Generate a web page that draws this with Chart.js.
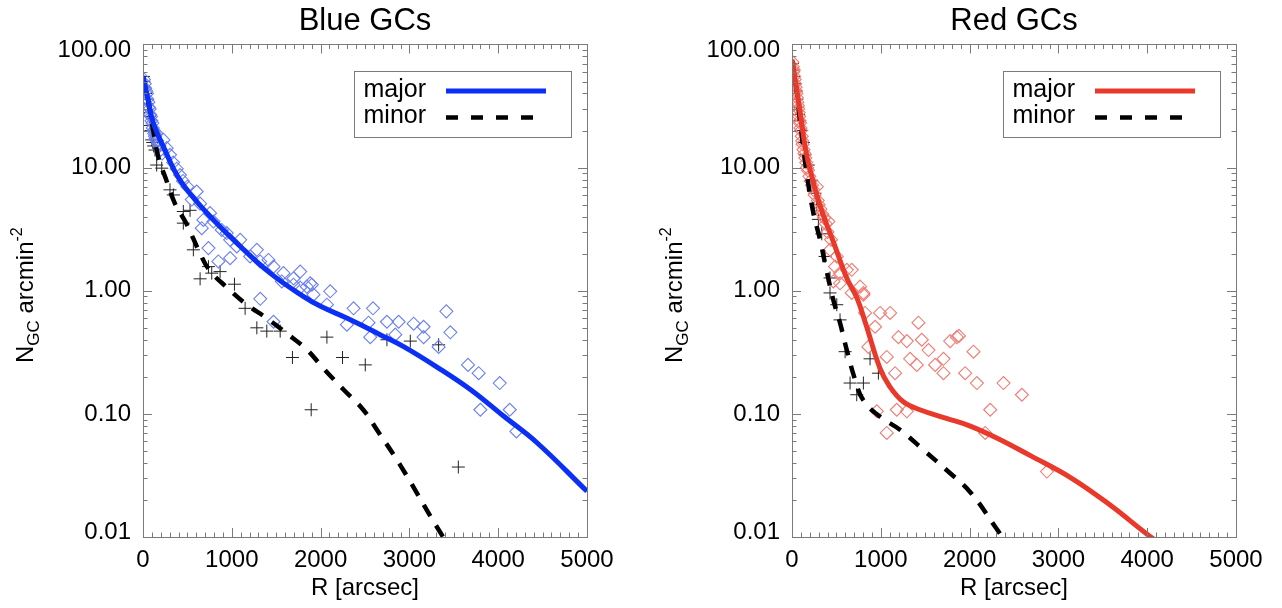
<!DOCTYPE html>
<html>
<head>
<meta charset="utf-8">
<script src="https://cdn.jsdelivr.net/npm/chart.js@4.4.1/dist/chart.umd.min.js"></script>
<style>
  html, body { margin: 0; padding: 0; background: #fff; overflow: hidden; }
  #wrap { position: relative; width: 1282px; height: 608px; overflow: hidden; }
  canvas { position: absolute; top: 0; }
  #blueChart { left: 0; }
  #redChart { left: 649px; }
</style>
</head>
<body>
<div id="wrap">
  <canvas id="blueChart" width="640" height="608"></canvas>
  <canvas id="redChart" width="640" height="608"></canvas>
</div>
<script>
// axis ticks
const xTicks = [0, 1000, 2000, 3000, 4000, 5000];
const yTicks = [0.01, 0.1, 1, 10, 100];
const legendLabels = ["major", "minor"];

// Blue GCs - fitted profiles
const blueMajorR = [0, 60, 116, 229, 417, 718, 1094, 1432, 1800, 2000, 2300, 2670, 2940, 3310, 3690, 4060, 4440, 5000];
const blueMajorN = [55, 35, 23, 14.8, 7.9, 4.3, 2.3, 1.39, 0.904, 0.747, 0.597, 0.44, 0.35, 0.24, 0.157, 0.096, 0.058, 0.0235];
const blueMinorR = [0, 60, 116, 180, 250, 360, 490, 630, 745, 940, 1170, 1390, 1620, 1850, 2030, 2260, 2480, 2630, 2900, 3380, 3500];
const blueMinorN = [55, 34, 20, 11.5, 8.4, 5.1, 3.5, 2.1, 1.48, 1.07, 0.77, 0.6, 0.45, 0.33, 0.235, 0.157, 0.108, 0.075, 0.038, 0.01, 0.0078];

// Blue GCs - data along major axis (diamonds)
const blueMajPtsR = [10, 20, 25, 35, 45, 50, 60, 65, 75, 80, 90, 95, 105, 110, 120, 125, 135, 140, 150, 160, 170, 185, 200, 215,
  230, 267, 304, 340, 380, 417, 450, 500, 605, 549, 643, 755, 680, 793, 662, 887, 943, 981, 1094, 1056, 1282, 737, 1206, 981,
  1413, 1470, 849, 1319, 1582, 1770, 1695, 1883, 2108, 1845, 1320, 1470, 1563, 1695, 1770, 1902, 1920, 2071, 2371, 2590,
  2296, 2540, 2559, 2747, 2879, 3048, 3160, 3160, 2841, 3416, 3461, 3329, 3660, 3780, 4017, 3799, 4130, 4205];
const blueMajPtsN = [52, 48, 44, 42, 40, 36, 34, 31, 30, 27, 26, 24, 23, 21, 20, 19, 18, 17, 19, 16.5, 15.5, 15, 14, 13,
  16.8, 14.4, 12.7, 11, 9.8, 8.7, 7.8, 7.0, 6.4, 5.5, 5.1, 4.27, 3.76, 3.65, 3.22, 3.12, 2.94, 2.59, 2.59, 2.29, 2.15, 2.22, 1.9, 1.84,
  1.78, 1.57, 1.73, 1.73, 1.39, 1.43, 1.26, 1.15, 0.99, 1.08, 0.86, 0.56, 1.19, 1.12, 1.06, 1.12, 0.93, 0.77, 0.72, 0.72,
  0.53, 0.55, 0.42, 0.56, 0.56, 0.54, 0.51, 0.42, 0.44, 0.68, 0.46, 0.35, 0.25, 0.214, 0.178, 0.108, 0.108, 0.072];

// Blue GCs - data along minor axis (crosses)
const blueMinPtsR = [5, 10, 20, 30, 40, 50, 60, 70, 80, 90, 98, 110, 120, 135, 154, 211, 304, 342, 454, 530, 454, 567, 737, 774,
  643, 868, 1030, 1150, 1282, 1394, 1545, 2071, 1683, 2247, 2503, 1894, 2747, 3010, 3329, 3551];
const blueMinPtsN = [55, 50, 45, 40, 36, 33, 28, 26, 22, 20, 16.8, 16, 15, 13.9, 10.5, 9.9, 6.6, 6.0, 4.4, 4.5, 3.54, 2.15, 1.57, 1.39,
  1.25, 1.43, 1.13, 0.72, 0.5, 0.47, 0.47, 0.42, 0.287, 0.287, 0.25, 0.108, 0.4, 0.39, 0.364, 0.037];

// Red GCs - fitted profiles
const redMajorR = [0, 53, 109, 147, 203, 320, 470, 620, 730, 830, 990, 1100, 1250, 1440, 1740, 2000, 2300, 2680, 3150, 3590, 4040, 4200];
const redMajorN = [75, 43, 23, 14.8, 9.6, 4.8, 2.45, 1.25, 0.88, 0.54, 0.235, 0.167, 0.126, 0.108, 0.092, 0.08, 0.064, 0.046, 0.03, 0.018, 0.01, 0.0085];
const redMinorR = [0, 53, 90, 166, 240, 316, 390, 466, 540, 617, 710, 800, 990, 1220, 1480, 1740, 2010, 2310, 2400];
const redMinorN = [75, 42, 24, 9.0, 4.3, 2.6, 1.45, 0.84, 0.55, 0.33, 0.19, 0.13, 0.095, 0.074, 0.051, 0.035, 0.023, 0.0115, 0.0092];

// Red GCs - data along major axis (diamonds)
const redMajPtsR = [5, 10, 15, 20, 25, 30, 35, 40, 45, 50, 55, 60, 65, 70, 75, 80, 85, 90, 95, 100, 110, 115, 120, 130, 140, 150,
  160, 170, 180, 195, 210, 225, 240, 255, 279, 290, 300, 320, 340, 360, 380, 410, 400, 428, 440, 504, 617, 673, 767, 804,
  541, 485, 466, 541, 673, 804, 823, 992, 1105, 936, 1424, 1199, 1293, 1462, 1537, 1781, 1857, 1880, 2044, 860, 1067, 1330,
  1405, 1612, 1706, 1706, 1161, 1950, 2082, 2382, 2589, 955, 1180, 1293, 2232, 1067, 2176, 2871];
const redMajPtsN = [72, 66, 60, 62, 55, 52, 48, 45, 42, 40, 37, 34, 32, 30, 28, 26, 24, 23, 21, 20, 18, 16.5, 15.5, 14, 13, 12,
  11, 10, 9.5, 8.5, 7.8, 7.2, 6.6, 6.0, 7.0, 5.4, 5.0, 4.6, 4.2, 3.9, 3.5, 3.65, 3.0, 2.15, 2.6, 1.9, 1.48, 1.48, 1.08, 0.96,
  1.39, 1.57, 1.19, 1.15, 0.96, 0.93, 0.66, 0.66, 0.66, 0.51, 0.55, 0.42, 0.39, 0.4, 0.33, 0.39, 0.42, 0.43, 0.32, 0.35, 0.29, 0.28,
  0.25, 0.25, 0.28, 0.214, 0.214, 0.214, 0.178, 0.178, 0.143, 0.105, 0.108, 0.105, 0.108, 0.07, 0.07, 0.034];

// Red GCs - data along minor axis (crosses)
const redMinPtsR = [5, 15, 25, 35, 45, 55, 65, 75, 85, 109, 128, 147, 184, 222, 259, 279, 297, 335, 372, 428, 428, 504, 541,
  598, 654, 804, 729, 879, 973];
const redMinPtsN = [70, 62, 55, 48, 42, 36, 31, 27, 24, 20, 16, 12.7, 10.5, 7.9, 6.2, 5.0, 3.8, 2.9, 1.9, 1.27, 0.96, 0.77, 0.58,
  0.32, 0.178, 0.178, 0.143, 0.28, 0.214];

const FONT = "'Liberation Sans', Arial, Helvetica, sans-serif";
const FRAME = "#7a7a7a";

function zip(xs, ys) {
    return xs.map((x, i) => ({ x: x, y: ys[i] }));
}

// box, inward ticks, y labels, y title and legend (IDL style)
const idlDecor = {
    id: "idlDecor",
    afterDatasetsDraw(chart, args, opts) {
        const ctx = chart.ctx;
        const a = chart.chartArea;
        const xs = chart.scales.x;
        const ys = chart.scales.y;

        ctx.save();
        ctx.strokeStyle = FRAME;
        ctx.lineWidth = 1;
        ctx.strokeRect(Math.round(a.left) + 0.5, Math.round(a.top) + 0.5,
            Math.round(a.right - a.left), Math.round(a.bottom - a.top));

        ctx.beginPath();
        for (let v = 0; v <= 5000; v += 100) {
            const px = Math.round(xs.getPixelForValue(v)) + 0.5;
            const len = v % 1000 === 0 ? 9 : 4.5;
            ctx.moveTo(px, a.bottom); ctx.lineTo(px, a.bottom - len);
            ctx.moveTo(px, a.top); ctx.lineTo(px, a.top + len);
        }
        for (let d = 0.01; d < 150; d *= 10) {
            for (let k = 1; k <= 9; k++) {
                const v = d * k;
                if (v > 100.0001) break;
                const py = Math.round(ys.getPixelForValue(v)) + 0.5;
                const len = k === 1 ? 9 : 4.5;
                ctx.moveTo(a.left, py); ctx.lineTo(a.left + len, py);
                ctx.moveTo(a.right, py); ctx.lineTo(a.right - len, py);
            }
        }
        ctx.stroke();

        // y tick labels (end labels nudged inside, like IDL)
        ctx.fillStyle = "#000";
        ctx.font = "24px " + FONT;
        ctx.textAlign = "right";
        ctx.textBaseline = "middle";
        yTicks.forEach((v, i) => {
            let off = 0;
            if (i === 0) off = -5;
            if (i === yTicks.length - 1) off = 6;
            ctx.fillText(v.toFixed(2), a.left - 12, ys.getPixelForValue(v) + off);
        });

        // y axis title: N_GC arcmin^-2
        ctx.translate(33, 363);
        ctx.rotate(-Math.PI / 2);
        ctx.textBaseline = "alphabetic";
        ctx.textAlign = "left";
        let x = 0;
        ctx.font = "24px " + FONT;
        ctx.fillText("N", x, 0); x += ctx.measureText("N").width;
        ctx.font = "17px " + FONT;
        ctx.fillText("GC", x, 6); x += ctx.measureText("GC").width;
        ctx.font = "24px " + FONT;
        ctx.fillText(" arcmin", x, 0); x += ctx.measureText(" arcmin").width;
        ctx.font = "16px " + FONT;
        ctx.fillText("-2", x, -11);
        ctx.restore();

        // legend
        ctx.save();
        const lx = a.left + 211;
        ctx.strokeStyle = FRAME;
        ctx.lineWidth = 1;
        ctx.strokeRect(Math.round(lx) + 0.5, 71.5, 217, 66);
        ctx.fillStyle = "#000";
        ctx.font = "25px " + FONT;
        ctx.textBaseline = "alphabetic";
        ctx.fillText(legendLabels[0], lx + 9.5, 97);
        ctx.fillText(legendLabels[1], lx + 9.5, 123);
        ctx.lineWidth = 5;
        ctx.strokeStyle = opts.color;
        ctx.beginPath(); ctx.moveTo(lx + 92, 91); ctx.lineTo(lx + 192, 91); ctx.stroke();
        ctx.lineWidth = 4.5;
        ctx.strokeStyle = "#000";
        ctx.setLineDash([12, 13]);
        ctx.beginPath(); ctx.moveTo(lx + 92, 117.5); ctx.lineTo(lx + 192, 117.5); ctx.stroke();
        ctx.restore();
    }
};

function makeChart(id, title, lineColor, ptColor, majR, majN, minR, minN, pR, pN, cR, cN) {
    new Chart(document.getElementById(id), {
        type: "scatter",
        data: {
            datasets: [
                {
                    data: zip(majR, majN), showLine: true, borderColor: lineColor, borderWidth: 5,
                    pointRadius: 0, tension: 0.4, clip: 0
                },
                {
                    data: zip(minR, minN), showLine: true, borderColor: "#000", borderWidth: 4.5,
                    borderDash: [13, 11], pointRadius: 0, tension: 0.4, clip: 0
                },
                {
                    data: zip(pR, pN), pointStyle: "rectRot", pointRadius: 6.5, borderWidth: 1.1,
                    borderColor: ptColor, backgroundColor: "rgba(0,0,0,0)"
                },
                {
                    data: zip(cR, cN), pointStyle: "cross", pointRadius: 6.5, borderWidth: 1,
                    borderColor: "#222"
                }
            ]
        },
        options: {
            responsive: false,
            animation: false,
            events: [],
            layout: { padding: { left: 0, right: 53, top: 0, bottom: 0 } },
            plugins: {
                legend: { display: false },
                tooltip: { enabled: false },
                title: {
                    display: true, text: title, fullSize: false, color: "#000",
                    font: { family: FONT, size: 31, weight: "normal", lineHeight: 1.2 },
                    padding: { top: 3, bottom: 4.3 }
                },
                idlDecor: { color: lineColor }
            },
            scales: {
                x: {
                    type: "linear", min: 0, max: 5000,
                    afterBuildTicks: s => { s.ticks = xTicks.map(v => ({ value: v })); },
                    afterFit: s => { s.height = 71; },
                    grid: { display: false }, border: { display: false },
                    ticks: {
                        color: "#000", font: { family: FONT, size: 24 }, padding: 1, maxRotation: 0, autoSkip: false,
                        callback: v => String(v)
                    },
                    title: {
                        display: true, text: "R [arcsec]", color: "#000",
                        font: { family: FONT, size: 24, lineHeight: 1.2 }, padding: { top: 0, bottom: 5 }
                    }
                },
                y: {
                    type: "logarithmic", min: 0.01, max: 100,
                    afterBuildTicks: s => { s.ticks = yTicks.map(v => ({ value: v })); },
                    afterFit: s => { s.width = 143; },
                    grid: { display: false }, border: { display: false },
                    ticks: { display: false }
                }
            }
        },
        plugins: [idlDecor]
    });
}

makeChart("blueChart", "Blue GCs", "#0b2ff5", "#6d80f2",
    blueMajorR, blueMajorN, blueMinorR, blueMinorN, blueMajPtsR, blueMajPtsN, blueMinPtsR, blueMinPtsN);
makeChart("redChart", "Red GCs", "#e8392b", "#f07c74",
    redMajorR, redMajorN, redMinorR, redMinorN, redMajPtsR, redMajPtsN, redMinPtsR, redMinPtsN);
</script>
</body>
</html>
